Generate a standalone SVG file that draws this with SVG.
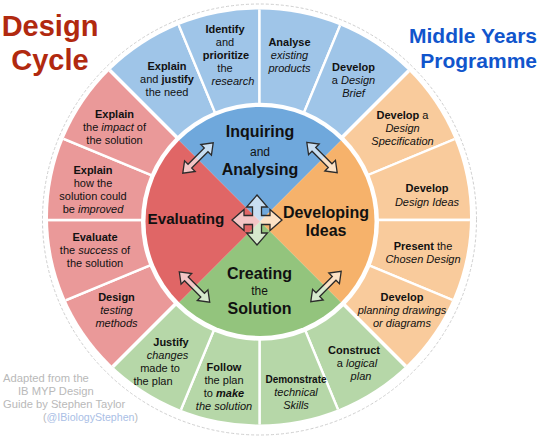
<svg xmlns="http://www.w3.org/2000/svg" xmlns:xlink="http://www.w3.org/1999/xlink" width="540" height="443" viewBox="0 0 540 443">
<style>
.t{font-family:"Liberation Sans",Arial,Helvetica,sans-serif;font-size:11px;fill:#111;text-anchor:middle}
.b{font-weight:bold}
.i{font-style:italic}
.big{font-family:"Liberation Sans",Arial,Helvetica,sans-serif;font-size:16px;font-weight:bold;fill:#111;text-anchor:middle}
.sm{font-family:"Liberation Sans",Arial,Helvetica,sans-serif;font-size:12px;fill:#111;text-anchor:middle}
.seg{stroke:#fff;stroke-width:2.4;stroke-linejoin:miter}
.blue{fill:#9fc5e8}.orange{fill:#f9cb9c}.green{fill:#b6d7a8}.pink{fill:#ea9999}
.arr{fill:#fff;fill-opacity:0.62;stroke:#2b2b2b;stroke-width:1.3;stroke-linejoin:miter}
.cred{font-family:"Liberation Sans",Arial,Helvetica,sans-serif;font-size:11.2px;fill:#b9b9b9}
</style>
<defs>
<clipPath id="outerClip"><ellipse cx="259" cy="217" rx="211" ry="207.5"/></clipPath>
<clipPath id="innerClip"><circle cx="260" cy="221.4" r="114.5"/></clipPath>
<path id="dbl" d="M -21.5 0 L -11.5 -7.5 L -11.5 -2.6 L 11.5 -2.6 L 11.5 -7.5 L 21.5 0 L 11.5 7.5 L 11.5 2.6 L -11.5 2.6 L -11.5 7.5 Z"/>
</defs>
<rect width="540" height="443" fill="#fff"/>

<ellipse cx="259.5" cy="219.5" rx="217" ry="215.5" fill="none" stroke="#cfcfcf" stroke-width="1" stroke-dasharray="3 2"/>

<g id="outer-ring" clip-path="url(#outerClip)">
<g id="seg-explain-justify"><path class="seg blue" d="M259.5 220 L47.4 7.9 L144.7 -57.2 Z"/></g>
<g id="seg-identify"><path class="seg blue" d="M259.5 220 L144.7 -57.2 L259.5 -80 Z"/></g>
<g id="seg-analyse"><path class="seg blue" d="M259.5 220 L259.5 -80 L374.3 -57.2 Z"/></g>
<g id="seg-design-brief"><path class="seg blue" d="M259.5 220 L374.3 -57.2 L471.6 7.9 Z"/></g>
<g id="seg-specification"><path class="seg orange" d="M259.5 220 L471.6 7.9 L536.7 105.2 Z"/></g>
<g id="seg-design-ideas"><path class="seg orange" d="M259.5 220 L536.7 105.2 L559.5 220 Z"/></g>
<g id="seg-chosen-design"><path class="seg orange" d="M259.5 220 L559.5 220 L536.7 334.8 Z"/></g>
<g id="seg-planning"><path class="seg orange" d="M259.5 220 L536.7 334.8 L471.6 432.1 Z"/></g>
<g id="seg-construct"><path class="seg green" d="M259.5 220 L471.6 432.1 L374.3 497.2 Z"/></g>
<g id="seg-demonstrate"><path class="seg green" d="M259.5 220 L374.3 497.2 L259.5 520 Z"/></g>
<g id="seg-follow"><path class="seg green" d="M259.5 220 L259.5 520 L144.7 497.2 Z"/></g>
<g id="seg-justify"><path class="seg green" d="M259.5 220 L144.7 497.2 L47.4 432.1 Z"/></g>
<g id="seg-testing"><path class="seg pink" d="M259.5 220 L47.4 432.1 L-17.7 334.8 Z"/></g>
<g id="seg-evaluate"><path class="seg pink" d="M259.5 220 L-17.7 334.8 L-40.5 220 Z"/></g>
<g id="seg-improved"><path class="seg pink" d="M259.5 220 L-40.5 220 L-17.7 105.2 Z"/></g>
<g id="seg-impact"><path class="seg pink" d="M259.5 220 L-17.7 105.2 L47.4 7.9 Z"/></g>
<g id="quadrant-dividers" stroke="#fff" stroke-width="3.6">
<line x1="259.5" y1="220" x2="471.6" y2="7.9"/>
<line x1="259.5" y1="220" x2="471.6" y2="432.1"/>
<line x1="259.5" y1="220" x2="47.4" y2="432.1"/>
<line x1="259.5" y1="220" x2="47.4" y2="7.9"/>
</g>
</g>

<circle cx="260" cy="221.7" r="119" fill="#fff"/>

<g id="inner-circle" clip-path="url(#innerClip)">
<g id="q-inquiring"><path fill="#6fa8dc" d="M260 221.4 L-40 -78.6 L560 -78.6 Z"/></g>
<g id="q-developing"><path fill="#f6b26b" d="M260 221.4 L560 -78.6 L560 521.4 Z"/></g>
<g id="q-creating"><path fill="#93c47d" d="M260 221.4 L560 521.4 L-40 521.4 Z"/></g>
<g id="q-evaluating"><path fill="#e06666" d="M260 221.4 L-40 521.4 L-40 -78.6 Z"/></g>
</g>

<g id="outer-labels">
<text class="t" x="167" y="70"><tspan class="b">Explain</tspan></text>
<text class="t" x="167" y="83">and <tspan class="b">justify</tspan></text>
<text class="t" x="167" y="96">the need</text>

<text class="t b" x="225" y="33">Identify</text>
<text class="t" x="225" y="46">and</text>
<text class="t b" x="226" y="59">prioritize</text>
<text class="t" x="225" y="72">the</text>
<text class="t i" x="233" y="85">research</text>

<text class="t b" x="289.5" y="46">Analyse</text>
<text class="t i" x="289.5" y="59">existing</text>
<text class="t i" x="289.5" y="72">products</text>

<text class="t b" x="353.5" y="71">Develop</text>
<text class="t" x="353.5" y="84">a <tspan class="i">Design</tspan></text>
<text class="t i" x="353.5" y="97">Brief</text>

<text class="t" x="402.5" y="119"><tspan class="b">Develop</tspan> a</text>
<text class="t i" x="402.5" y="132">Design</text>
<text class="t i" x="402.5" y="145">Specification</text>

<text class="t b" x="427" y="192">Develop</text>
<text class="t i" x="427" y="205.5">Design Ideas</text>

<text class="t" x="423" y="250"><tspan class="b">Present</tspan> the</text>
<text class="t i" x="423" y="263">Chosen Design</text>

<text class="t b" x="402" y="301">Develop</text>
<text class="t i" x="402" y="314">planning drawings</text>
<text class="t i" x="402" y="327">or diagrams</text>

<text class="t b" x="354" y="354">Construct</text>
<text class="t" x="357" y="367">a <tspan class="i">logical</tspan></text>
<text class="t i" x="361" y="380">plan</text>

<text class="t b" x="296" y="383" style="font-size:10px">Demonstrate</text>
<text class="t i" x="296" y="396">technical</text>
<text class="t i" x="296" y="409">Skills</text>

<text class="t b" x="224" y="371">Follow</text>
<text class="t" x="224" y="384">the plan</text>
<text class="t" x="224" y="397">to <tspan class="b i">make</tspan></text>
<text class="t i" x="224" y="410">the solution</text>

<text class="t b" x="171" y="346">Justify</text>
<text class="t i" x="167.5" y="358.5">changes</text>
<text class="t" x="160" y="371.5">made to</text>
<text class="t" x="153" y="384.5">the plan</text>

<text class="t b" x="116.5" y="301">Design</text>
<text class="t i" x="116.5" y="314">testing</text>
<text class="t i" x="116.5" y="327">methods</text>

<text class="t b" x="95" y="241">Evaluate</text>
<text class="t" x="95" y="254">the <tspan class="i">success</tspan> of</text>
<text class="t" x="95" y="267">the solution</text>

<text class="t b" x="93" y="174">Explain</text>
<text class="t" x="93" y="187">how the</text>
<text class="t" x="93" y="200">solution could</text>
<text class="t" x="93" y="213">be <tspan class="i">improved</tspan></text>

<text class="t b" x="114.5" y="118">Explain</text>
<text class="t" x="114.5" y="131">the <tspan class="i">impact</tspan> of</text>
<text class="t" x="114.5" y="144">the solution</text>
</g>

<g id="inner-labels">
<text class="big" x="260" y="137">Inquiring</text>
<text class="sm" x="260" y="155.5">and</text>
<text class="big" x="260" y="175">Analysing</text>
<text class="big" x="326" y="217.5">Developing</text>
<text class="big" x="326" y="235.5">Ideas</text>
<text class="big" x="259.5" y="278.5">Creating</text>
<text class="sm" x="259.5" y="294.5">the</text>
<text class="big" x="259.5" y="313.5">Solution</text>
<text class="big" x="186" y="223.5" style="font-size:15.2px">Evaluating</text>
</g>

<g id="connectors">
<use xlink:href="#dbl" class="arr" transform="translate(198 158) rotate(-45)"/>
<use xlink:href="#dbl" class="arr" transform="translate(322 157.5) rotate(45)"/>
<use xlink:href="#dbl" class="arr" transform="translate(194.5 287) rotate(45)"/>
<use xlink:href="#dbl" class="arr" transform="translate(326 286.5) rotate(-45)"/>
<path class="arr" transform="translate(257 220)" d="M0 -25 L10.5 -13 L4.5 -13 L4.5 -4.5 L13 -4.5 L13 -10.5 L25 0 L13 10.5 L13 4.5 L4.5 4.5 L4.5 13 L10.5 13 L0 25 L-10.5 13 L-4.5 13 L-4.5 4.5 L-13 4.5 L-13 10.5 L-25 0 L-13 -10.5 L-13 -4.5 L-4.5 -4.5 L-4.5 -13 L-10.5 -13 Z"/>
</g>

<g id="titles">
<text x="50" y="36" style="font-family:'Liberation Sans',Arial,sans-serif;font-size:29px;font-weight:bold;fill:#b1290f;text-anchor:middle">Design</text>
<text x="50" y="70" style="font-family:'Liberation Sans',Arial,sans-serif;font-size:29px;font-weight:bold;fill:#b1290f;text-anchor:middle">Cycle</text>
<text x="537" y="43" style="font-family:'Liberation Sans',Arial,sans-serif;font-size:21px;font-weight:bold;fill:#1155cc;text-anchor:end">Middle Years</text>
<text x="537" y="68" style="font-family:'Liberation Sans',Arial,sans-serif;font-size:21px;font-weight:bold;fill:#1155cc;text-anchor:end">Programme</text>
</g>

<g id="credits">
<text class="cred" x="3" y="382">Adapted from the</text>
<text class="cred" x="18" y="395">IB MYP Design</text>
<text class="cred" x="3" y="408">Guide by Stephen Taylor</text>
<text class="cred" x="43" y="421" style="font-size:10.6px">(<tspan style="fill:#aac0e6">@IBiologyStephen</tspan>)</text>
</g>
</svg>
